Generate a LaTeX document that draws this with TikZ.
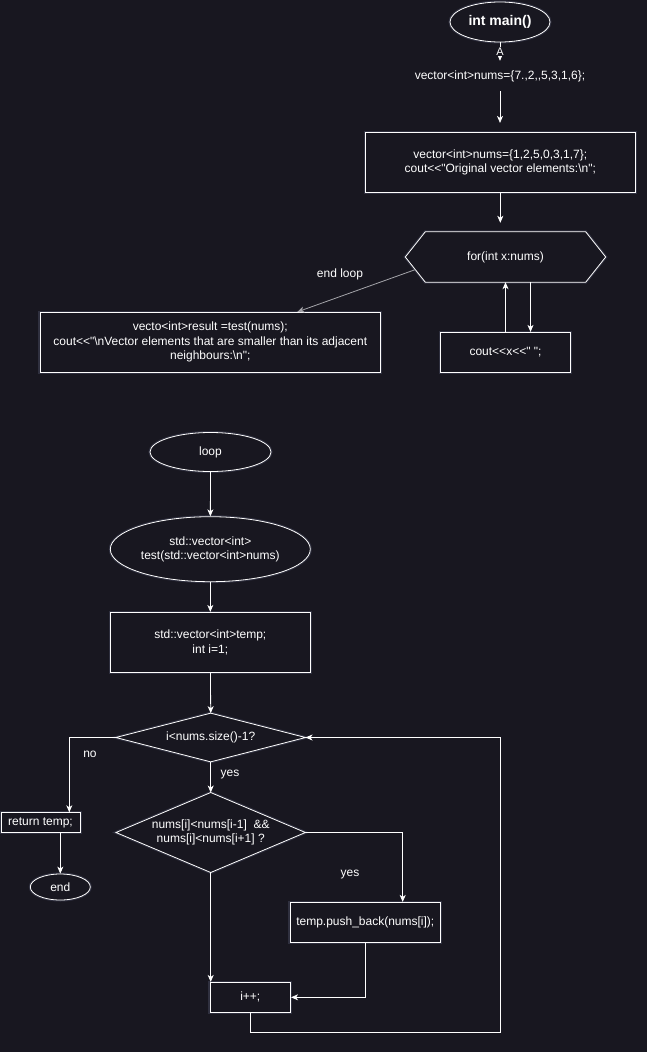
\documentclass[tikz,border=0pt]{standalone}
\usepackage{fontspec}
\setmainfont{Liberation Sans}[Ligatures=TeXOff]
\usetikzlibrary{shapes.geometric,arrows.meta,calc}
\pgfdeclarelayer{canvaslayer}
\pgfdeclarelayer{back}
\pgfsetlayers{canvaslayer,back,main}
\definecolor{canvas}{RGB}{24,23,32}
\definecolor{halo}{RGB}{140,150,190}
\definecolor{greyline}{RGB}{165,165,170}

\begin{document}
\begin{tikzpicture}[x=1pt,y=-1pt,
  every node/.style={text=white,font=\fontsize{12}{14.5}\selectfont,align=center,inner sep=0pt},
  glow/.style={preaction={draw=halo,line width=3pt,opacity=0.2}},
  outline/.style={draw=white,fill=canvas,line width=0.8pt,glow},
  box/.style={rectangle,outline},
  oval/.style={ellipse,outline},
  link/.style={draw=white,line width=0.8pt,-{Stealth[length=7pt,width=6pt,inset=2pt]}},
  tag/.style={fill=canvas,inner sep=1pt}
]
\begin{pgfonlayer}{canvaslayer}
\fill[canvas] (0,0) rectangle (647,1052);
\end{pgfonlayer}
\useasboundingbox (0,0) rectangle (647,1052);

% ---------- main ----------
\node[oval,minimum width=100,minimum height=40,font=\fontsize{14}{16}\selectfont\bfseries] (main) at (500,22) {int main()};
\node[minimum height=30] (seed) at (500,76) {vector<int>nums=\{7.,2,,5,3,1,6\};};
\draw[link] (main) -- node[tag,font=\fontsize{11}{12}\selectfont] (atag) {A} (seed);

\node[box,minimum width=270,minimum height=60] (setup) at (500.3,162.3)
  {vector<int>nums=\{1,2,5,0,3,1,7\};\\cout<\kern0pt<"Original vector elements:\textbackslash n";};
\draw[link,shorten >=9pt] (seed) -- (seed |- setup.north);

\node[minimum width=200,minimum height=50] (forx) at (505.5,257) {for(int x:nums)};
\begin{pgfonlayer}{back}
\draw[outline] (forx.west) -- ([xshift=20]forx.north west) -- ([xshift=-20]forx.north east)
  -- (forx.east) -- ([xshift=-20]forx.south east) -- ([xshift=20]forx.south west) -- cycle;
\end{pgfonlayer}
\draw[link,shorten >=9pt] (setup.south) -- (setup.south |- forx.north);

\node[box,minimum width=130,minimum height=40] (show) at (505.5,352.3) {cout<\kern0pt<x<\kern0pt<" ";};
\draw[link] ([xshift=25]forx.south) -- ([xshift=25]forx.south |- show.north);
\draw[link] (show.north) -- (show.north |- forx.south);

\node[box,minimum width=340.7,minimum height=60] (result) at (210.3,342.3)
  {vecto<int>result =test(nums);\\cout<\kern0pt<"\textbackslash nVector elements that are smaller than its adjacent\\neighbours:\textbackslash n";};
\draw[link,draw=greyline] ($(forx.west)!0.5!([xshift=20]forx.south west)$) -- ([xshift=87]result.north);
\node (endlbl) at (340,274) {end loop};

% ---------- test() ----------
\node[oval,minimum width=121,minimum height=39] (loop) at (210.5,452) {loop};
\node[oval,minimum width=200,minimum height=65] (test) at (210.3,549.2) {std::vector<int>\\test(std::vector<int>nums)};
\node[box,minimum width=200,minimum height=60] (temp) at (210.3,642.3) {std::vector<int>temp;\\int i=1;};
\node[minimum width=189.3,minimum height=48.3] (cond) at (210.7,737.5) {i<nums.size()-1?};
\node[minimum width=189,minimum height=79.6] (check) at (210.7,832.5) {nums[i]<nums[i-1]~~\&\&\\nums[i]<nums[i+1] ?};
\begin{pgfonlayer}{back}
\draw[outline] (cond.north) -- (cond.east) -- (cond.south) -- (cond.west) -- cycle;
\draw[outline] (check.north) -- (check.east) -- (check.south) -- (check.west) -- cycle;
\end{pgfonlayer}
\node[box,minimum width=79,minimum height=20] (ret) at (40.5,822.7) {return temp;};
\node[oval,minimum width=60,minimum height=26] (fin) at (60.3,887) {end};
\node[box,minimum width=150.7,minimum height=40] (push) at (365.3,922.3) {temp.push\_back(nums[i]);};
\node[box,minimum width=80.7,minimum height=30] (inc) at (250.3,997.3) {i++;};
\coordinate (backx) at (500,1032);

\draw[link] (loop) -- (test);
\draw[link] (test) -- (temp);
\draw[link] (temp) -- (cond.north);
\draw[link] (cond.west) -| ([xshift=28.8]ret.north);
\node (nolbl) at (90,754.3) {no};
\draw[link] (cond.south) -- (check.north);
\node (yes1) at (230,775) {yes};
\draw[link] (fin.north |- ret.south) -- (fin.north);
\draw[link] (check.east) -| ([xshift=37.4]push.north);
\node (yes2) at (350,875) {yes};
\draw[link] (check.south) -- (check.south |- inc.north);
\draw[link] (push.south) |- (inc.east);
\draw[link] (inc.south) |- (backx) |- (cond.east);
\end{tikzpicture}
\end{document}
